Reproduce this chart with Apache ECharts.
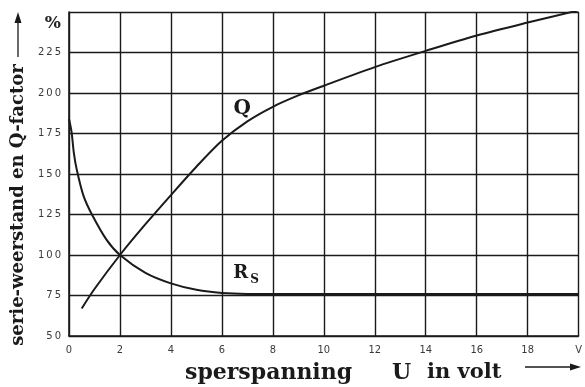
<!DOCTYPE html>
<html>
<head>
<meta charset="utf-8">
<script src="https://cdn.jsdelivr.net/npm/echarts@6/dist/echarts.min.js"></script>
<style>
  html, body { margin: 0; padding: 0; background: #fff; }
  #chart { width: 585px; height: 387px; }
</style>
</head>
<body>
<div id="chart"></div>
<script>
// Quality factor Q versus reverse voltage (volt, %)
const qVolt = [0.5, 1, 2, 3, 4, 5, 6, 7, 8, 9, 10, 12, 14, 16, 18, 20];
const qPct  = [67, 79, 100, 119, 137, 154.5, 170.5, 182.5, 191.5, 198.5, 204.5, 216, 226, 235.5, 243.5, 251];

// Series resistance Rs versus reverse voltage (volt, %)
const rsVolt = [0, 0.1, 0.19, 0.3, 0.57, 0.9, 1.47, 2, 3, 4, 5, 6, 7, 8, 20];
const rsPct  = [184, 176, 163, 153, 136.5, 125, 109.5, 100, 89, 82.5, 78.5, 76.5, 76, 76, 76];

// Axis ticks
const xTicks = [0, 2, 4, 6, 8, 10, 12, 14, 16, 18, 20];
const yTicks = [50, 75, 100, 125, 150, 175, 200, 225, 250];

const ink = '#1a1a1a';
const serif = '"DejaVu Serif", "Liberation Serif", serif';

const chart = echarts.init(document.getElementById('chart'), null, { renderer: 'canvas' });

const pairs = (xs, ys) => xs.map((x, i) => [x, ys[i]]);

chart.setOption({
  animation: false,
  backgroundColor: '#fff',
  grid: { left: 69, right: 0, top: 12, bottom: 51 },
  xAxis: {
    type: 'value',
    min: xTicks[0], max: xTicks[xTicks.length - 1], interval: 2,
    axisLine: { show: true, lineStyle: { color: ink, width: 1.6 } },
    axisTick: { show: false },
    splitLine: { show: true, lineStyle: { color: ink, width: 1.4 } },
    axisLabel: {
      color: '#3a3a3a', fontSize: 11, margin: 9,
      fontFamily: '"DejaVu Sans Condensed", "DejaVu Sans", sans-serif',
      formatter: v => (v === 20 ? 'V' : String(v))
    }
  },
  yAxis: {
    type: 'value',
    min: yTicks[0], max: yTicks[yTicks.length - 1], interval: 25,
    axisLine: { show: true, lineStyle: { color: ink, width: 1.6 } },
    axisTick: { show: false },
    splitLine: { show: true, lineStyle: { color: ink, width: 1.4 } },
    axisLabel: {
      color: '#3a3a3a', fontSize: 10, margin: 8,
      fontFamily: '"DejaVu Sans", sans-serif',
      // widely spaced digits; the top tick carries the unit
      formatter: v => (v === 250 ? '{pct|%}' : String(v).split('').join('\u2009')),
      rich: {
        pct: {
          fontSize: 17, fontWeight: 'bold', color: '#222', fontFamily: serif,
          padding: [24, 0, 0, 0]
        }
      }
    }
  },
  series: [
    {
      name: 'Q', type: 'line', data: pairs(qVolt, qPct),
      smooth: 0.3, showSymbol: false,
      lineStyle: { color: ink, width: 2 }, z: 5
    },
    {
      name: 'Rs', type: 'line', data: pairs(rsVolt, rsPct),
      smooth: 0.3, showSymbol: false,
      lineStyle: { color: ink, width: 2 }, z: 5
    }
  ]
});

// Curve labels and axis titles
const px = (x, y) => chart.convertToPixel({ gridIndex: 0 }, [x, y]);
const qPos = px(6.8, 190);
const rsPos = px(6.45, 88.5);

chart.setOption({
  graphic: [
    {
      type: 'text', x: qPos[0], y: qPos[1],
      style: { text: 'Q', font: 'bold 20px ' + serif, fill: ink, align: 'center', verticalAlign: 'middle' }
    },
    {
      type: 'text', x: rsPos[0], y: rsPos[1],
      style: {
        text: '{r|R}{s|S}',
        rich: {
          r: { font: 'bold 18px ' + serif, fill: ink },
          s: { font: 'bold 12px ' + serif, fill: ink, padding: [12, 0, 0, 2] }
        },
        fill: ink, align: 'left', verticalAlign: 'middle'
      }
    },
    {
      type: 'text', x: 185, y: 373,
      style: { text: 'sperspanning', font: 'bold 22px ' + serif, fill: ink, align: 'left', verticalAlign: 'middle' }
    },
    {
      type: 'text', x: 392, y: 373,
      style: { text: 'U', font: 'bold 22px ' + serif, fill: ink, align: 'left', verticalAlign: 'middle' }
    },
    {
      type: 'text', x: 427, y: 373,
      style: { text: 'in volt', font: 'bold 21px ' + serif, fill: ink, align: 'left', verticalAlign: 'middle' }
    },
    {
      type: 'line', shape: { x1: 525, y1: 367, x2: 572, y2: 367 },
      style: { stroke: ink, lineWidth: 1.3 }
    },
    {
      type: 'polygon', shape: { points: [[581, 367], [570, 363.5], [570, 370.5]] },
      style: { fill: ink }
    },
    {
      type: 'text', x: 18, y: 205, rotation: Math.PI / 2,
      style: {
        text: 'serie-weerstand en Q-factor', font: 'bold 18px ' + serif, fill: ink,
        align: 'center', verticalAlign: 'middle'
      }
    },
    {
      type: 'line', shape: { x1: 18, y1: 57, x2: 18, y2: 21 },
      style: { stroke: ink, lineWidth: 1.3 }
    },
    {
      type: 'polygon', shape: { points: [[18, 12], [14.5, 23], [21.5, 23]] },
      style: { fill: ink }
    }
  ]
});
</script>
</body>
</html>
